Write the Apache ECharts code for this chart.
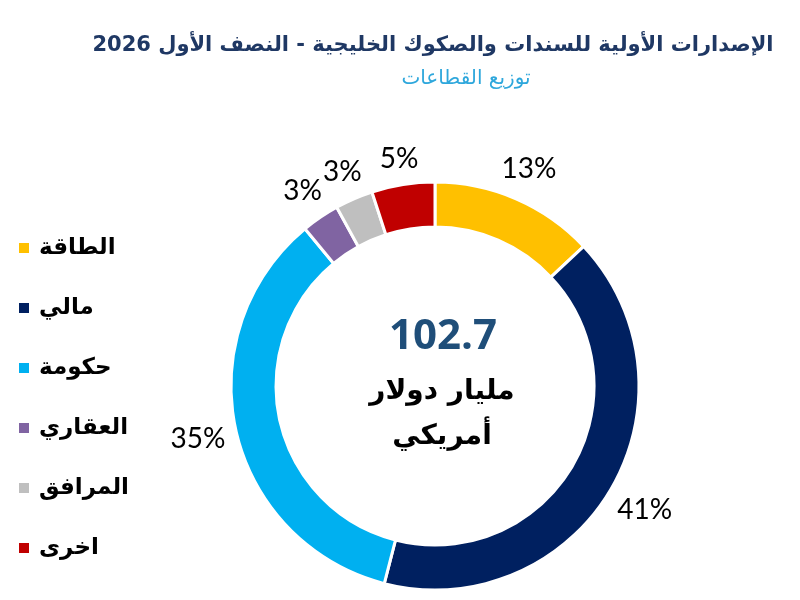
<!DOCTYPE html>
<html>
<head>
<meta charset="utf-8">
<script src="https://cdn.jsdelivr.net/npm/echarts@6/dist/echarts.min.js"></script>
<style>
  html, body { margin: 0; padding: 0; background: #fff; }
  #chart { width: 800px; height: 600px; }
</style>
</head>
<body>
<div id="chart"></div>
<script>
  // sectors, clockwise from 12 o'clock
  const sectors = ['الطاقة', 'مالي', 'حكومة', 'العقاري', 'المرافق', 'اخرى'];
  const shares = [13, 41, 35, 3, 3, 5];
  const colors = ['#FFC000', '#002060', '#00B0F0', '#8064A2', '#BFBFBF', '#C00000'];
  const total = '102.7';

  const CX = 435, CY = 386, R_IN = 159, R_OUT = 204;
  const LABEL_R = 213; // label boxes sit just outside the ring

  const sum = shares.reduce((a, b) => a + b, 0);
  // mid angle of each slice, clockwise from top
  const midAngles = [];
  let acc = 0;
  shares.forEach(v => {
    midAngles.push((acc + v / 2) / sum * Math.PI * 2);
    acc += v;
  });

  const chart = echarts.init(document.getElementById('chart'));
  chart.setOption({
    animation: false,
    color: colors,
    title: [
      {
        text: 'الإصدارات الأولية للسندات والصكوك الخليجية - النصف الأول 2026',
        left: 428, top: 30, textAlign: 'center',
        textStyle: { color: '#1F3864', fontSize: 21, fontWeight: 'bold', fontFamily: 'DejaVu Sans' }
      },
      {
        text: 'توزيع القطاعات',
        left: 461, top: 64, textAlign: 'center',
        textStyle: { color: '#2EA7DC', fontSize: 20, fontWeight: 'normal', fontFamily: 'DejaVu Sans' }
      },
      {
        text: total,
        left: 438, top: 311, textAlign: 'center',
        textStyle: { color: '#1F4E79', fontSize: 42, fontWeight: 'bold', fontFamily: 'Open Sans' }
      },
      {
        text: 'مليار دولار\nأمريكي',
        left: 437, top: 364, textAlign: 'center',
        textStyle: { color: '#000', fontSize: 28, fontWeight: 'bold', fontFamily: 'DejaVu Sans', lineHeight: 45 }
      }
    ],
    legend: {
      orient: 'vertical',
      left: 12,
      top: 230,
      itemWidth: 12,
      itemHeight: 12,
      itemGap: 34,
      icon: 'rect',
      data: sectors,
      textStyle: { color: '#000', fontSize: 23, fontWeight: 'bold', fontFamily: 'DejaVu Sans', padding: [0, 0, 0, 4], lineHeight: 26 }
    },
    series: [{
      type: 'pie',
      center: [CX, CY],
      radius: [R_IN, R_OUT],
      startAngle: 90,
      clockwise: true,
      itemStyle: { borderColor: '#fff', borderWidth: 3 },
      label: {
        show: true,
        position: 'outside',
        formatter: '{c}%',
        color: '#000',
        fontSize: 28,
        fontFamily: 'Lato'
      },
      labelLine: { show: false, length: 10, length2: 0 },
      labelLayout: function (p) {
        const a = midAngles[p.dataIndex];
        const ux = Math.sin(a), uy = -Math.cos(a);
        const w = p.labelRect.width, h = p.labelRect.height;
        const d = LABEL_R + Math.abs(ux) * w / 2 + Math.abs(uy) * h / 2;
        return { x: CX + ux * d, y: CY + uy * d, align: 'center', verticalAlign: 'middle' };
      },
      emphasis: { disabled: true },
      data: sectors.map((name, i) => ({ name: name, value: shares[i] }))
    }]
  });
</script>
</body>
</html>
